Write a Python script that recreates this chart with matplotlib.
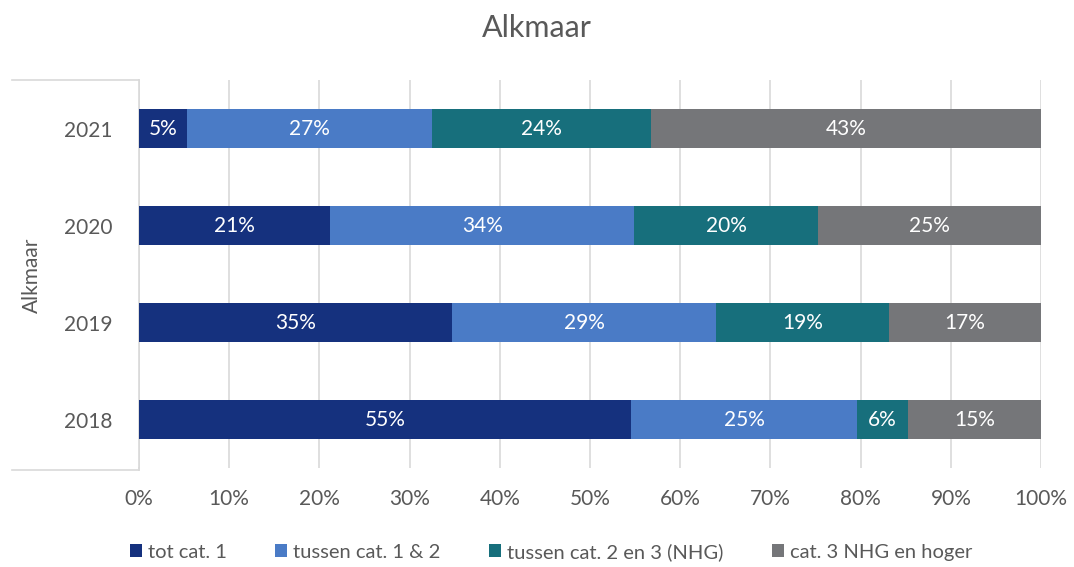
import matplotlib.pyplot as plt
import numpy as np
from matplotlib.lines import Line2D

plt.rcParams['font.family'] = ['Lato', 'DejaVu Sans']

years = ['2018', '2019', '2020', '2021']
tot_cat1 = [54.6, 34.7, 21.2, 5.3]
cat1_2 = [25.0, 29.3, 33.7, 27.2]
cat2_3 = [5.6, 19.1, 20.4, 24.3]
cat3_hoger = [14.8, 16.9, 24.7, 43.2]
series_names = ['tot cat. 1', 'tussen cat. 1 & 2', 'tussen cat. 2 en 3 (NHG)', 'cat. 3 NHG en hoger']
colors = ['#15317e', '#4a7bc6', '#176f7c', '#757679']
xticks = np.arange(0, 101, 10)

fig = plt.figure(figsize=(10.74, 5.67), dpi=100)
ax = fig.add_axes([0.1294, 0.1746, 0.8399, 0.6843])

y = np.arange(len(years))
left = np.zeros(len(years))
for vals, name, c in zip([tot_cat1, cat1_2, cat2_3, cat3_hoger], series_names, colors):
    vals = np.array(vals)
    ax.barh(y, vals, left=left, height=0.41, color=c, label=name, zorder=3)
    for yi, l, v in zip(y, left, vals):
        ax.text(l + v / 2, yi, f'{round(v):.0f}%', ha='center', va='center',
                color='white', fontsize=15, zorder=4)
    left += vals

ax.set_xlim(0, 100)
ax.set_ylim(-0.5, 3.5)
ax.set_xticks(xticks)
ax.set_xticklabels([f'{t}%' for t in xticks])
ax.set_yticks(y)
ax.set_yticklabels(years)
ax.tick_params(axis='both', length=0, labelsize=15, labelcolor='#595959')
ax.tick_params(axis='x', pad=15)
ax.tick_params(axis='y', pad=19)
ax.grid(axis='x', color='#d9d9d9', linewidth=1.2, zorder=0)
for s in ['top', 'right', 'bottom']:
    ax.spines[s].set_visible(False)
ax.spines['left'].set_color('#d9d9d9')
ax.spines['left'].set_linewidth(1.2)

# group bracket lines on the category axis
x0, x1 = 12 / 1074, 139 / 1074
for yy in [1 - 80 / 567, 1 - 470 / 567]:
    fig.add_artist(Line2D([x0, x1], [yy, yy], color='#d9d9d9', linewidth=1.2))
fig.add_artist(Line2D([x1, x1], [1 - 470 / 567, 1 - 468 / 567], color='#d9d9d9', linewidth=1.2))
fig.text(32 / 1074, 1 - 275 / 567, 'Alkmaar', rotation=90, ha='center', va='center',
         fontsize=15, color='#595959')

fig.text(0.5, 1 - 28 / 567, 'Alkmaar', ha='center', va='center', fontsize=22, color='#595959')

fig.legend(loc='center', bbox_to_anchor=(0.513, 1 - 552 / 567), ncol=4, frameon=False,
           fontsize=14.5, labelcolor='#595959', handlelength=0.6, handleheight=0.6,
           handletextpad=0.3, columnspacing=2.4)

fig.savefig('out.png', dpi=100)
